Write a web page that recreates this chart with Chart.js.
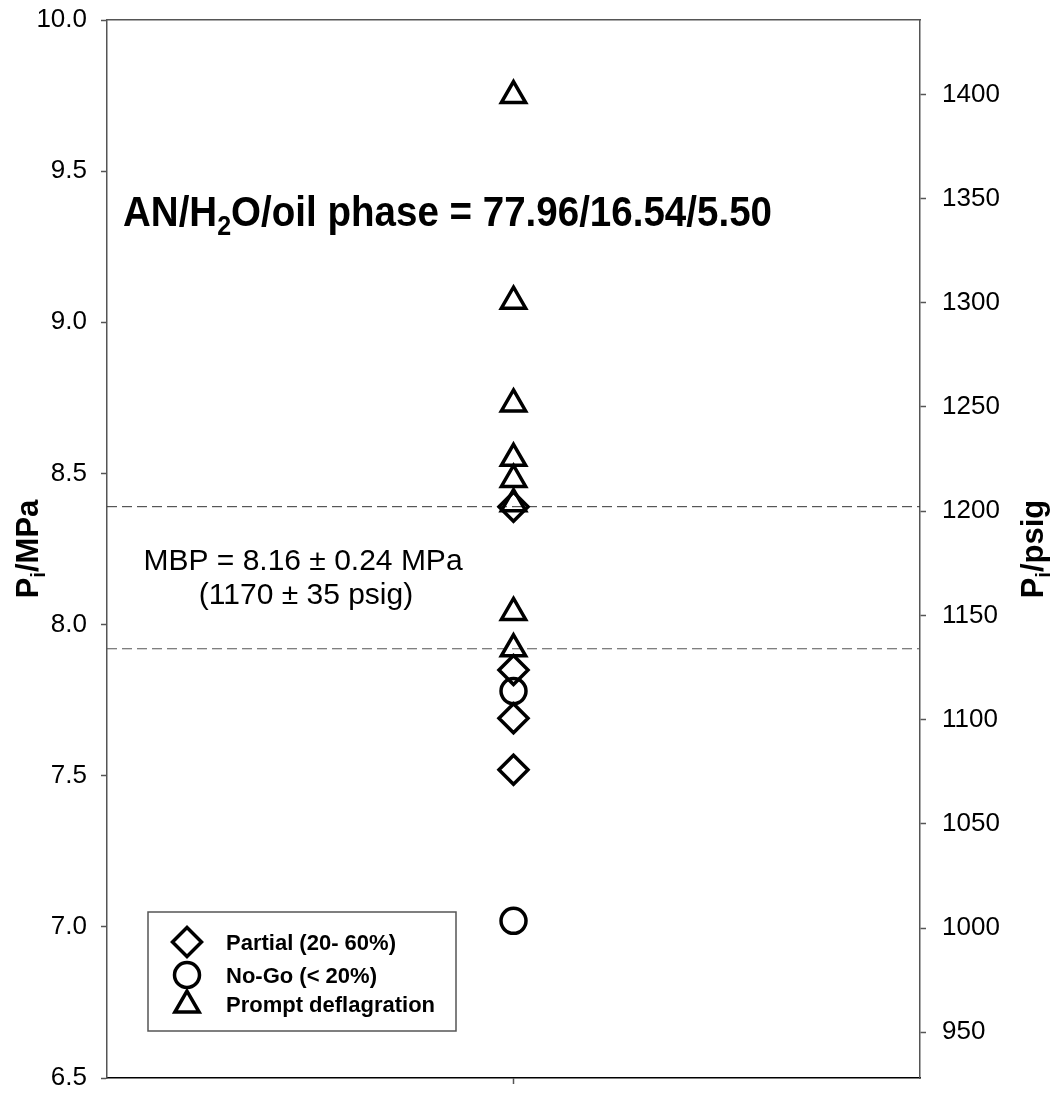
<!DOCTYPE html>
<html>
<head>
<meta charset="utf-8">
<script src="https://cdn.jsdelivr.net/npm/chart.js@4.4.0/dist/chart.umd.min.js"></script>
<style>
  html, body { margin: 0; padding: 0; background: #fff; }
  #wrap { width: 1055px; height: 1093px; }
</style>
</head>
<body>
<div id="wrap"><canvas id="mbpChart" width="1055" height="1093"></canvas></div>
<script>
// values (MPa)
const partialMPa = [8.39, 7.85, 7.69, 7.52];
const noGoMPa = [7.78, 7.02];
const promptMPa = [9.75, 9.07, 8.73, 8.55, 8.48, 8.40, 8.04, 7.92];
const mbpBounds = [8.39, 7.92];
const mpaRange = [6.5, 10.0];
const mpaTicks = [6.5, 7.0, 7.5, 8.0, 8.5, 9.0, 9.5, 10.0];
const psigTicks = [950, 1000, 1050, 1100, 1150, 1200, 1250, 1300, 1350, 1400];
const seriesNames = ["Partial (20- 60%)", "No-Go (< 20%)", "Prompt deflagration"];

const FONT = '"Liberation Sans", Arial, Helvetica, sans-serif';
const ATM = 0.101325;
const PSI_PER_MPA = 145.038;
function toPsig(mpa) { return (mpa - ATM) * PSI_PER_MPA; }

Chart.defaults.font.family = FONT;
Chart.defaults.color = "#000";

function pts(arr) { return arr.map(v => ({ x: 1, y: v })); }

// fixed axis sizes so the plot box lands where the original has it
function fixSize(prop, size) {
  return s => {
    s[prop] = size;
    s.paddingTop = 0; s.paddingBottom = 0; s.paddingLeft = 0; s.paddingRight = 0;
  };
}

const MARK_LW = 3.5;
const markerStyle = {
  showLine: false,
  borderColor: "#000",
  backgroundColor: "rgba(0,0,0,0)",
  pointBackgroundColor: "rgba(0,0,0,0)",
  pointBorderColor: "#000",
  pointBorderWidth: MARK_LW,
  pointHoverRadius: 0,
};

// rich text with subscripts
function richWidth(ctx, parts, size, weight) {
  let w = 0;
  parts.forEach(p => {
    ctx.font = weight + " " + (p.sub ? size * 0.65 : size) + "px " + FONT;
    w += ctx.measureText(p.t).width;
  });
  return w;
}
function drawRich(ctx, parts, x, y, size, weight) {
  parts.forEach(p => {
    ctx.font = weight + " " + (p.sub ? size * 0.65 : size) + "px " + FONT;
    ctx.fillText(p.t, x, p.sub ? y + size * 0.22 : y);
    x += ctx.measureText(p.t).width;
  });
}

function drawMarker(ctx, style, x, y, r) {
  ctx.beginPath();
  if (style === "rectRot") {
    ctx.moveTo(x - r, y); ctx.lineTo(x, y - r); ctx.lineTo(x + r, y); ctx.lineTo(x, y + r);
    ctx.closePath();
  } else if (style === "circle") {
    ctx.arc(x, y, r, 0, Math.PI * 2);
  } else {
    ctx.moveTo(x, y - r);
    ctx.lineTo(x + Math.sin(2 * Math.PI / 3) * r, y + r / 2);
    ctx.lineTo(x - Math.sin(2 * Math.PI / 3) * r, y + r / 2);
    ctx.closePath();
  }
  ctx.stroke();
}

const textPlugin = {
  id: "texts",
  afterDraw(chart) {
    const ctx = chart.ctx;
    ctx.save();
    ctx.fillStyle = "#000";
    ctx.textBaseline = "alphabetic";
    ctx.textAlign = "left";

    // composition label
    const title = [{ t: "AN/H" }, { t: "2", sub: true }, { t: "O/oil phase = 77.96/16.54/5.50" }];
    const tw = richWidth(ctx, title, 42, "bold");
    ctx.save();
    ctx.translate(123, 226);
    ctx.scale(649 / tw, 1);
    drawRich(ctx, title, 0, 0, 42, "bold");
    ctx.restore();

    // MBP annotation
    ctx.font = "30px " + FONT;
    ctx.textAlign = "center";
    ctx.fillText("MBP = 8.16 \u00b1 0.24 MPa", 303, 570);
    ctx.fillText("(1170 \u00b1 35 psig)", 306, 604);
    ctx.textAlign = "left";

    // axis titles
    const yt = [{ t: "P" }, { t: "i", sub: true }, { t: "/MPa" }];
    const y2t = [{ t: "P" }, { t: "i", sub: true }, { t: "/psig" }];
    [[yt, 27], [y2t, 1032]].forEach(([parts, cx]) => {
      const w = richWidth(ctx, parts, 31, "bold");
      ctx.save();
      ctx.translate(cx, 549);
      ctx.rotate(-Math.PI / 2);
      drawRich(ctx, parts, -w / 2, 31 * 0.36, 31, "bold");
      ctx.restore();
    });

    // legend box
    ctx.strokeStyle = "#555";
    ctx.lineWidth = 1.5;
    ctx.strokeRect(148, 912, 308, 119);
    ctx.strokeStyle = "#000";
    ctx.lineWidth = MARK_LW;
    const rows = [["rectRot", 942, 950, 14.5], ["circle", 975, 983, 12.5], ["triangle", 1005, 1012, 14]];
    rows.forEach(([style, my, by, r], i) => {
      drawMarker(ctx, style, 187, my, r);
      ctx.font = "bold 22px " + FONT;
      ctx.fillText(seriesNames[i], 226, by);
    });
    ctx.restore();
  },
};

const gridOpts = {
  drawOnChartArea: false,
  drawTicks: true,
  tickLength: 6,
  tickColor: "#555",
  tickWidth: 1.5,
};

const ctx = document.getElementById("mbpChart").getContext("2d");
const mbpChart = new Chart(ctx, {
  type: "scatter",
  data: {
    datasets: [
      Object.assign({ label: seriesNames[0], data: pts(partialMPa), pointStyle: "rectRot", pointRadius: 14.5 }, markerStyle),
      Object.assign({ label: seriesNames[1], data: pts(noGoMPa), pointStyle: "circle", pointRadius: 12.5 }, markerStyle),
      Object.assign({ label: seriesNames[2], data: pts(promptMPa), pointStyle: "triangle", pointRadius: 14 }, markerStyle),
      {
        type: "line", label: "MBP upper",
        data: [{ x: 0, y: mbpBounds[0] }, { x: 2, y: mbpBounds[0] }],
        borderColor: "#333", borderWidth: 1, borderDash: [10, 5], pointRadius: 0,
      },
      {
        type: "line", label: "MBP lower",
        data: [{ x: 0, y: mbpBounds[1] }, { x: 2, y: mbpBounds[1] }],
        borderColor: "#555", borderWidth: 1.2, borderDash: [10, 5], pointRadius: 0,
      },
    ],
  },
  options: {
    responsive: false,
    animation: false,
    events: [],
    layout: { padding: 0, autoPadding: false },
    plugins: {
      legend: { display: false },
      tooltip: { enabled: false },
    },
    scales: {
      x: {
        type: "linear",
        position: "bottom",
        min: 0,
        max: 2,
        afterBuildTicks: s => { s.ticks = [{ value: 1 }]; },
        afterFit: fixSize("height", 15),
        ticks: { callback: () => "", padding: 0 },
        grid: gridOpts,
        border: { display: true, color: "#000", width: 1.5 },
      },
      xTop: {
        type: "linear",
        position: "top",
        min: 0,
        max: 2,
        afterFit: fixSize("height", 20),
        ticks: { display: false },
        grid: { display: false },
        border: { display: true, color: "#555", width: 1.5 },
      },
      y: {
        type: "linear",
        position: "left",
        min: mpaRange[0],
        max: mpaRange[1],
        afterBuildTicks: s => { s.ticks = mpaTicks.map(v => ({ value: v })); },
        afterFit: fixSize("width", 107),
        ticks: {
          callback: v => Number(v).toFixed(1),
          font: { size: 26 },
          color: "#000",
          padding: 14,
        },
        grid: gridOpts,
        border: { display: true, color: "#555", width: 1.5 },
      },
      y2: {
        type: "linear",
        position: "right",
        min: toPsig(mpaRange[0]),
        max: toPsig(mpaRange[1]),
        afterBuildTicks: s => { s.ticks = psigTicks.map(v => ({ value: v })); },
        afterFit: fixSize("width", 135),
        ticks: {
          callback: v => String(v),
          font: { size: 26 },
          color: "#000",
          padding: 16,
        },
        grid: gridOpts,
        border: { display: true, color: "#555", width: 1.5 },
      },
    },
  },
  plugins: [textPlugin],
});
</script>
</body>
</html>
